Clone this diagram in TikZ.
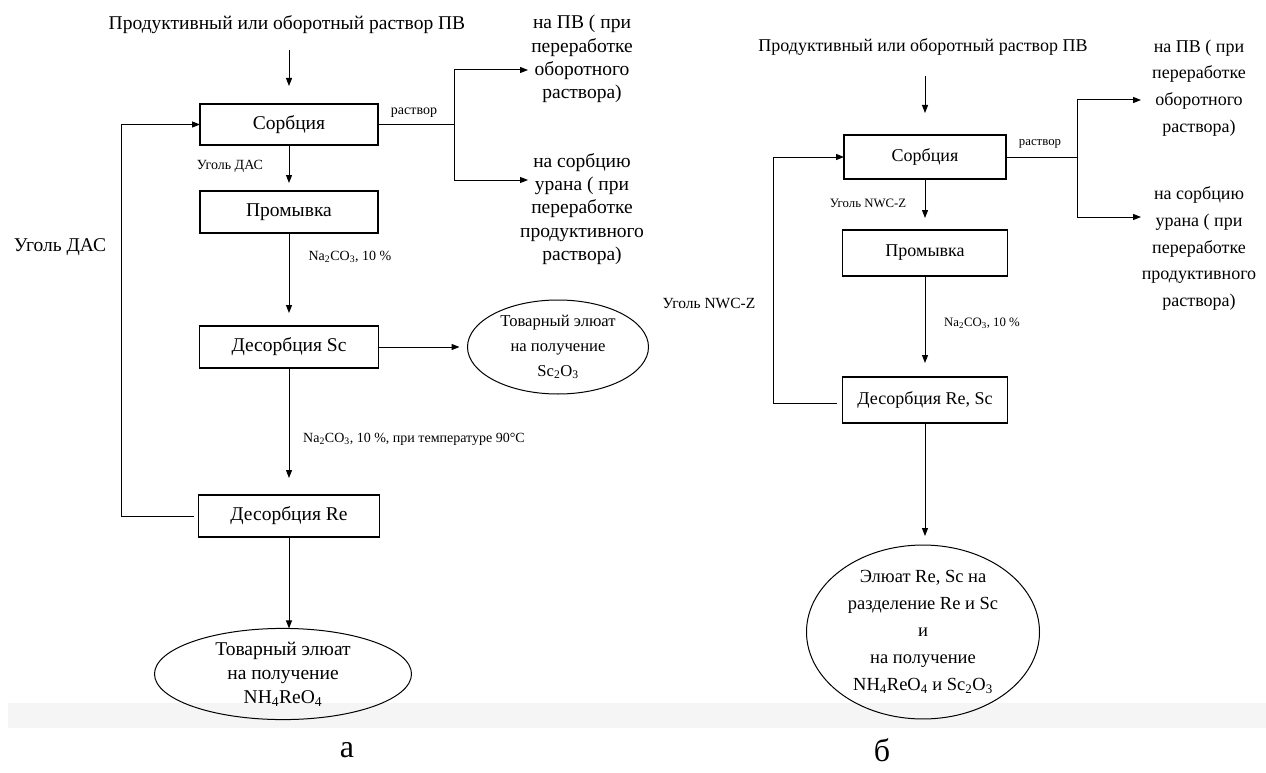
\documentclass[tikz,border=0pt]{standalone}
\usepackage{fontspec}
\setmainfont{Liberation Serif}
\usetikzlibrary{arrows.meta,shapes.geometric,calc}
\begin{document}
\begin{tikzpicture}[x=1pt,y=-1pt,
  every node/.style={inner sep=0pt, outer sep=0pt},
  box/.style={draw, line width=1.1pt, rectangle},
  oval/.style={draw, line width=1pt, ellipse},
  conn/.style={line width=1pt},
  arr/.style={conn, -{Triangle[length=8pt,width=6pt]}},
  fL/.style={font=\fontsize{19.5}{23.3}\selectfont, align=center},
  fLs/.style={font=\fontsize{16.6}{25}\selectfont, align=center},
  fLe/.style={font=\fontsize{19.5}{24}\selectfont, align=center},
  sL/.style={font=\fontsize{14}{16}\selectfont},
  fR/.style={font=\fontsize{18}{26.7}\selectfont, align=center},
  fRe/.style={font=\fontsize{18.5}{27}\selectfont, align=center},
  sR/.style={font=\fontsize{12.8}{15}\selectfont},
  capt/.style={font=\fontsize{32}{34}\selectfont}
]
\useasboundingbox (0,0) rectangle (1266,773);
\fill[black!4] (8,703) rectangle (1266,728);

% ---------- left diagram ----------
\node[fL] (titleL) at (287,25) {Продуктивный или оборотный раствор ПВ};
\node[box, fL, minimum width=178pt, minimum height=41pt] (sorbL) at (289,124.5) {Сорбция};
\node[box, fL, line width=1.8pt, minimum width=178pt, minimum height=42pt] (promL) at (289,212) {Промывка};
\node[box, fL, minimum width=179pt, minimum height=42pt] (scL) at (289,347) {Десорбция Sc};
\node[box, fL, minimum width=181pt, minimum height=42pt] (reL) at (289,516) {Десорбция Re};
\node[oval, fLs, minimum width=181pt, minimum height=94pt] (elScL) at (558,347) {Товарный элюат\\на получение\\Sc\textsubscript{2}O\textsubscript{3}};
\node[oval, fLe, minimum width=257pt, minimum height=88pt] (elReL) at (283,674) {Товарный элюат\\на получение\\NH\textsubscript{4}ReO\textsubscript{4}};
\node[fL] (outL1) at (582,59) {на ПВ ( при\\переработке\\оборотного\\раствора)};
\node[fL] (outL2) at (582,209) {на сорбцию\\урана ( при\\переработке\\продуктивного\\раствора)};
\node[sL] (rastL) at (414,113) {раствор};
\node[sL] (ugL) at (230,166) {Уголь ДАС};
\node[sL] (naL1) at (350,257) {Na\textsubscript{2}CO\textsubscript{3}, 10 \%};
\node[sL] (naL2) at (414,439) {Na\textsubscript{2}CO\textsubscript{3}, 10 \%, при температуре 90°C};
\node[fL] (ugLbig) at (60,247) {Уголь ДАС};
\coordinate (brL) at (454,124.5);
\coordinate (tL1) at (528,70);
\coordinate (tL2) at (528,180);
\coordinate (fbL) at (121,516);

\draw[arr] ($(sorbL.north |- titleL.south)+(0,16)$) -- ($(sorbL.north)+(0,-18)$);
\draw[arr] (sorbL.south) -- ($(promL.north)+(0,-8)$);
\draw[arr] (promL.south) -- ($(scL.north)+(0,-13)$);
\draw[arr] (scL.south) -- ($(reL.north)+(0,-17)$);
\draw[arr] (reL.south) -- (reL.south |- elReL.north);
\draw[arr] (scL.east) -- ($(elScL.west)+(-8,0)$);
\draw[conn] (sorbL.east) -- (brL);
\draw[arr] (brL) |- (tL1);
\draw[arr] (brL) |- (tL2);
\draw[arr] ($(reL.west)+(-5,0)$) -- (fbL) |- (sorbL.west);

% ---------- right diagram ----------
\node[fR] (titleR) at (923,47) {Продуктивный или оборотный раствор ПВ};
\node[box, fR, minimum width=162pt, minimum height=44pt] (sorbR) at (925,157) {Сорбция};
\node[box, fR, minimum width=165pt, minimum height=46pt] (promR) at (925,253) {Промывка};
\node[box, fR, minimum width=165pt, minimum height=46pt] (reR) at (925,400) {Десорбция Re, Sc};
\node[oval, fRe, minimum width=233pt, minimum height=159pt] (elR) at (923,632) {Элюат Re, Sc на\\разделение Re и Sc\\и\\на получение\\NH\textsubscript{4}ReO\textsubscript{4} и Sc\textsubscript{2}O\textsubscript{3}};
\node[fR] (outR1) at (1199,88) {на ПВ ( при\\переработке\\оборотного\\раствора)};
\node[fR] (outR2) at (1199,248.5) {на сорбцию\\урана ( при\\переработке\\продуктивного\\раствора)};
\node[sR] (rastR) at (1040,144) {раствор};
\node[sR] (ugR) at (868,203) {Уголь NWC-Z};
\node[sR] (naR) at (982,323) {Na\textsubscript{2}CO\textsubscript{3}, 10 \%};
\node[font=\fontsize{15.5}{18}\selectfont] (ugRbig) at (709,303) {Уголь NWC-Z};
\coordinate (brR) at (1077,157);
\coordinate (tR1) at (1141,100);
\coordinate (tR2) at (1141,217);
\coordinate (fbR) at (773,403);

\draw[arr] ($(sorbR.north |- titleR.south)+(0,21)$) -- ($(sorbR.north)+(0,-22)$);
\draw[arr] (sorbR.south) -- ($(promR.north)+(0,-12)$);
\draw[arr] (promR.south) -- ($(reR.north)+(0,-14)$);
\draw[arr] (reR.south) -- ($(reR.south |- elR.north)+(0,-9)$);
\draw[conn] (sorbR.east) -- (brR);
\draw[arr] (brR) |- (tR1);
\draw[arr] (brR) |- (tR2);
\draw[arr] ($(reR.west)+(-6,3)$) -- (fbR) |- (sorbR.west);

% captions
\node[capt] (capA) at (347,750) {а};
\node[capt] (capB) at (882,750) {б};
\end{tikzpicture}
\end{document}
